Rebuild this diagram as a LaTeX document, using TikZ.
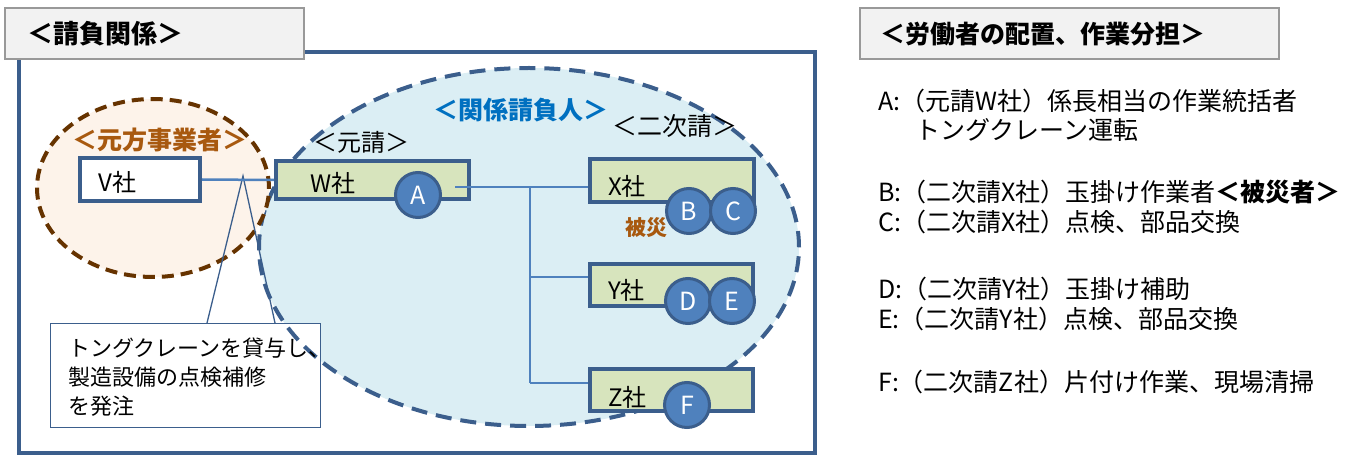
\documentclass[tikz,border=0pt]{standalone}
\usepackage{fontspec}
\newfontfamily\jp{Noto Sans CJK JP}
\definecolor{boxblue}{HTML}{3B5E8C}
\definecolor{linkblue}{HTML}{4F81BD}
\definecolor{circblue}{HTML}{4F81BD}
\definecolor{boxgreen}{HTML}{D7E4BD}
\definecolor{ellblue}{HTML}{DBEEF4}
\definecolor{peach}{HTML}{FDF3EA}
\definecolor{brownline}{HTML}{663300}
\definecolor{browntext}{HTML}{A8590F}
\definecolor{kblue}{HTML}{0070C0}
\definecolor{titlefill}{HTML}{F2F2F2}
\definecolor{titleline}{HTML}{999999}
\begin{document}
\begin{tikzpicture}[x=1pt,y=-1pt,
  titlebox/.style={draw=titleline, line width=2pt, fill=titlefill},
  frameline/.style={draw=boxblue, line width=4pt},
  company/.style={draw=boxblue, line width=4pt, fill=boxgreen, inner sep=0pt},
  worker/.style={circle, draw=boxblue, line width=3pt, fill=circblue, text=white, minimum size=45pt, inner sep=0pt, font=\jp\fontsize{25}{25}\selectfont},
  link/.style={draw=linkblue, line width=2.5pt},
  bluedash/.style={draw=boxblue, line width=4pt, dash pattern=on 16pt off 9pt},
  browndash/.style={draw=brownline, line width=4pt, dash pattern=on 12pt off 7pt},
  callout/.style={draw=boxblue, line width=1.3pt},
  txt/.style={inner sep=0pt, anchor=west, font=\jp\fontsize{24}{29}\selectfont},
  bigtxt/.style={inner sep=0pt, anchor=west, font=\jp\fontsize{25}{30}\selectfont},
  titletxt/.style={inner sep=0pt, anchor=west, font=\jp\bfseries\fontsize{26}{30}\selectfont},
  listtxt/.style={inner sep=0pt, anchor=west, font=\jp\fontsize{25}{30}\selectfont},
  calltxt/.style={inner sep=0pt, anchor=west, font=\jp\fontsize{22}{29}\selectfont}
]
\useasboundingbox (0,0) rectangle (1369,457);

% outer frame
\draw[frameline] (19,52) rectangle (815,453);
% left title
\draw[titlebox] (5,8) rectangle (304,59);
\node[titletxt] (t1) at (27,34) {＜請負関係＞};

% blue ellipse (関係請負人)
\fill[ellblue] (529,247) ellipse [x radius=270pt, y radius=179pt];
\draw[bluedash] (529,247) ellipse [x radius=270pt, y radius=179pt];
% orange ellipse (元方事業者)
\fill[peach] (153,188) ellipse [x radius=116pt, y radius=89pt];
\draw[browndash] (153,188) ellipse [x radius=116pt, y radius=89pt];

% callout
\node[callout, fill=white, minimum width=270pt, minimum height=104pt, inner sep=0pt, anchor=north west] (call) at (50,323) {};
\begin{scope}
  \clip (50,323) rectangle (320,427);
  \draw[bluedash] (529,247) ellipse [x radius=270pt, y radius=179pt];
\end{scope}
\coordinate (tipL) at (207,323);
\coordinate (tipR) at (275,323);
\coordinate (apex) at (243,176);
\draw[callout] (tipL) -- (apex) -- (tipR);
\node[calltxt] (c1) at (68,348) {トングクレーンを貸与し、};
\node[calltxt] (c2) at (68,377) {製造設備の点検補修};
\node[calltxt] (c3) at (68,406) {を発注};

% labels
\node[inner sep=0pt, anchor=west, text=browntext, font=\jp\bfseries\fontsize{25}{30}\selectfont] (lmoto) at (72,140) {＜元方事業者＞};
\node[txt] (lgen) at (313,142) {＜元請＞};
\node[inner sep=0pt, anchor=west, text=kblue, font=\jp\bfseries\fontsize{25}{30}\selectfont] (lkan) at (433,110) {＜関係請負人＞};
\node[bigtxt] (lni) at (612,126) {＜二次請＞};

% company boxes
\node[company, fill=white, minimum width=120pt, minimum height=43pt] (V) at (140,179.5) {};
\node[company, minimum width=193pt, minimum height=38pt] (W) at (372.5,180) {};
\node[company, minimum width=164pt, minimum height=43pt] (X) at (672,180.5) {};
\node[company, minimum width=163pt, minimum height=42pt] (Y) at (671.5,285) {};
\node[company, minimum width=163pt, minimum height=42pt] (Z) at (671.5,390) {};

\node[txt] (Vt) at (98,182) {V社};
\node[txt] (Wt) at (310,183) {W社};
\node[txt] (Xt) at (608,186) {X社};
\node[txt] (Yt) at (608,290) {Y社};
\node[txt] (Zt) at (608,397) {Z社};

% connectors
\draw[link] (V.east) -- (W.west);
\coordinate (wout) at (455,187);
\coordinate (trunk) at (530,187);
\coordinate (ybr) at (530,277);
\coordinate (zbr) at (530,383);
\draw[link] (wout) -- (X.west |- wout);
\draw[link] (trunk) -- (zbr);
\draw[link] (ybr) -- (Y.west |- ybr);
\draw[link] (zbr) -- (Z.west |- zbr);

% workers
\node[worker] (A) at (418,195) {A};
\node[worker] (B) at (689,211) {B};
\node[worker] (C) at (733,211) {C};
\node[worker] (D) at (688,301) {D};
\node[worker] (E) at (732,301) {E};
\node[worker] (F) at (687,405) {F};

\node[inner sep=0pt, anchor=west, text=browntext, font=\jp\bfseries\fontsize{21}{25}\selectfont] (hisai) at (625,228) {被災};

% right side
\draw[titlebox] (860,8) rectangle (1279,59);
\node[inner sep=0pt, anchor=west, font=\jp\bfseries\fontsize{25}{30}\selectfont] (t2) at (880,34) {＜労働者の配置、作業分担＞};

\node[listtxt] (la) at (878,101) {A:（元請W社）係長相当の作業統括者};
\node[listtxt] (la2) at (915,130) {トングクレーン運転};
\node[listtxt] (lb) at (878,192) {B:（二次請X社）玉掛け作業者{\bfseries ＜被災者＞}};
\node[listtxt] (lc) at (878,222) {C:（二次請X社）点検、部品交換};
\node[listtxt] (ld) at (878,289) {D:（二次請Y社）玉掛け補助};
\node[listtxt] (le) at (878,319) {E:（二次請Y社）点検、部品交換};
\node[listtxt] (lf) at (878,382) {F:（二次請Z社）片付け作業、現場清掃};
\end{tikzpicture}
\end{document}
